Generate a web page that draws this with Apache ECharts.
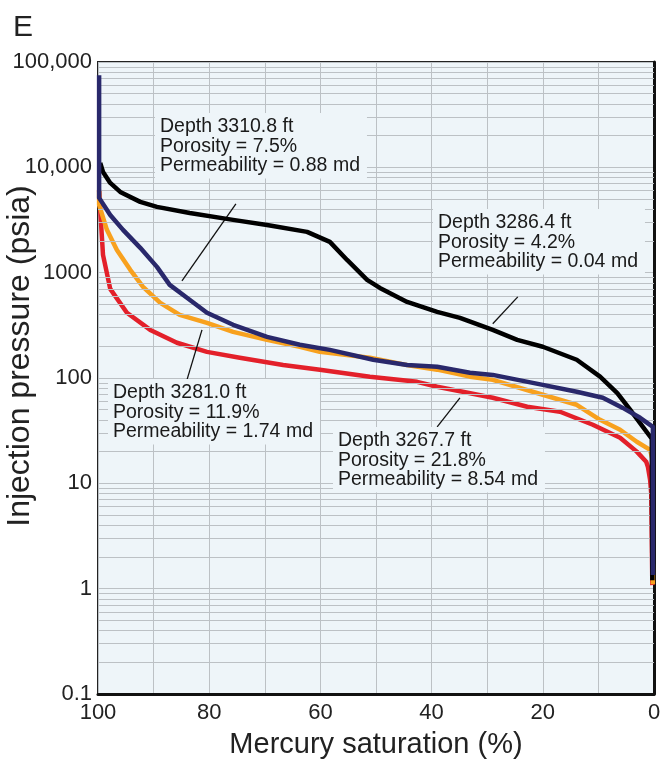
<!DOCTYPE html>
<html><head><meta charset="utf-8">
<script src="https://cdn.jsdelivr.net/npm/echarts@6/dist/echarts.min.js"></script>
<style>html,body{margin:0;padding:0;background:#fff}#c{width:661px;height:764px}</style>
</head><body><div id="c"></div>
<script>
// ---------- data (mercury saturation %, injection pressure psia) ----------
const depth3286 = [[0.3,1.2],[0.4,26.5],[2.0,34.4],[4.3,50],[6.6,72],[9.7,103],[13.9,149],[20,198],[24.6,230],[29,286],[34.9,372],[39,425],[44.4,528],[49.3,717],[51.6,855],[55.2,1320],[58.3,1960],[62.4,2440],[69.6,2840],[75.7,3170],[83.5,3690],[89.4,4210],[92.4,4700],[96,5840],[97.8,7110],[99.1,9040],[99.6,11000]];
const depth3310 = [[0.2,1.35],[0.2,34.4],[2.5,41.9],[5.6,52],[9.2,65],[13.9,74],[20,86],[29,107],[33.1,112],[39,128],[44.4,133],[50.5,149],[58.3,185],[63.7,207],[69.6,246],[75.7,320],[80.4,416],[84,577],[87.1,766],[89.4,1135],[92.4,1720],[95.5,2550],[97.8,3530],[99.8,5130],[99.8,75000]];
const depth3281 = [[0.2,1.1],[0.3,17],[0.7,20.8],[3.1,24.8],[6.1,32.3],[9.7,40.1],[13.9,55.7],[20,69.3],[29,96],[33.1,103],[39,120],[43.9,131],[51.1,156],[60.1,177],[63.7,198],[69.6,230],[75.7,274],[80.4,334],[85.3,398],[88.8,517],[91.9,733],[94.2,1063],[96.6,1645],[98.4,2550],[99.8,4400],[99.8,6000]];
const depth3267 = [[0.3,1.08],[0.5,8],[0.7,10.8],[1.1,14.4],[1.4,16],[3.1,20],[6.1,27.1],[11,36],[16.9,47.8],[22.8,53.3],[29,64.9],[34.4,74],[39,82.6],[42.6,92],[51.1,103],[60.1,120],[66.7,133],[74.5,156],[80.4,177],[85.8,216],[90.6,286],[94.8,416],[97.8,702],[99.1,1475],[99.6,3940],[99.8,6100]];

const xTickLabels = ['100','80','60','40','20','0'];
const yTickLabels = ['0.1','1','10','100','1000','10,000','100,000'];

const labelTexts = [
  'Depth 3310.8 ft\nPorosity = 7.5%\nPermeability = 0.88 md',
  'Depth 3286.4 ft\nPorosity = 4.2%\nPermeability = 0.04 md',
  'Depth 3281.0 ft\nPorosity = 11.9%\nPermeability = 1.74 md',
  'Depth 3267.7 ft\nPorosity = 21.8%\nPermeability = 8.54 md'
];
// leader lines in data coordinates
const leaders = [
  [[75.2,4500],[84.9,836]],
  [[24.5,589],[29.0,327]],
  [[81.3,286],[84.0,96]],
  [[34.9,64.9],[39.0,34.4]]
];

// ---------- chart ----------
const FONT = '"Liberation Sans", Arial, Helvetica, sans-serif';
const BG = '#eef5f9';
const GRIDC = '#bcc1c5';

const minorVals = [];
[0.1,1,10,100,1000,10000].forEach(d => { for (let k=2;k<=9;k++) minorVals.push(d*k); });

const chart = echarts.init(document.getElementById('c'), null, {renderer:'canvas'});

const labelPos = [[155,113],[433,209],[108,379],[333,427]];

chart.setOption({
  animation: false,
  backgroundColor: '#ffffff',
  title: {text:'E', left:8, top:8, textStyle:{fontFamily:FONT, fontSize:30, fontWeight:'normal', color:'#222'}},
  grid: {left:98, top:62, right:7, bottom:70, show:true, backgroundColor:BG, borderColor:'#222', borderWidth:2,
    containLabel:false, outerBoundsMode:'none'},
  xAxis: {
    type:'value', inverse:true, min:0, max:100, interval:20,
    name:'Mercury saturation (%)', nameLocation:'middle', nameGap:36, nameMoveOverlap:false,
    nameTextStyle:{fontFamily:FONT, fontSize:29, color:'#222'},
    axisLine:{show:true, onZero:false, lineStyle:{color:'#111', width:3}},
    axisTick:{show:false},
    axisLabel:{fontFamily:FONT, fontSize:22, color:'#222', margin:8,
      formatter:(v)=> xTickLabels[Math.round((100-v)/20)]},
    splitLine:{show:true, lineStyle:{color:GRIDC, width:1}},
    minorTick:{show:false, splitNumber:2},
    minorSplitLine:{show:true, lineStyle:{color:GRIDC, width:1}}
  },
  yAxis: {
    type:'log', logBase:10, min:0.1, max:100000, splitNumber:6,
    name:'Injection pressure (psia)', nameLocation:'middle', nameGap:62, nameRotate:90, nameMoveOverlap:false,
    nameTextStyle:{fontFamily:FONT, fontSize:32, color:'#222', padding:[0,0,0,44]},
    axisLine:{show:true, lineStyle:{color:'#111', width:3}},
    axisTick:{show:false},
    axisLabel:{fontFamily:FONT, fontSize:22, color:'#222', margin:6,
      formatter:(v)=> yTickLabels[Math.round(Math.log10(v))+1]},
    splitLine:{show:true, lineStyle:{color:GRIDC, width:1}}
  },
  graphic: labelTexts.map((t,i)=>({
    type:'text', x:labelPos[i][0], y:labelPos[i][1], z:50,
    style:{text:t, font:'19.5px '+FONT, fill:'#1a1a1a', lineHeight:19.5,
      backgroundColor:BG, padding:[4,7,3,5], verticalAlign:'top', align:'left'}
  })),
  series: [
    {type:'line', data:[], z:1, silent:true,
      markLine:{silent:true, symbol:'none', animation:false, label:{show:false},
        lineStyle:{color:GRIDC, width:1, type:'solid'},
        data: minorVals.map(v=>({yAxis:v}))}},
    {name:'3267.7', type:'line', data:depth3267, showSymbol:false, z:3,
      lineStyle:{color:'#e3202a', width:4.5, join:'round'}},
    {name:'3281.0', type:'line', data:depth3281, showSymbol:false, z:4,
      lineStyle:{color:'#f8a11e', width:4.5, join:'round'}},
    {name:'3286.4', type:'line', data:depth3286, showSymbol:false, z:5,
      lineStyle:{color:'#000000', width:4.5, join:'round'}},
    {name:'3310.8', type:'line', data:depth3310, showSymbol:false, z:6,
      lineStyle:{color:'#29286b', width:4.5, join:'round'}},
    {type:'line', data:[], z:60, silent:true,
      markLine:{silent:true, symbol:'none', animation:false, label:{show:false},
        lineStyle:{color:'#111', width:1.3, type:'solid'},
        data: leaders.map(l=>[{coord:l[0]},{coord:l[1]}])}}
  ]
});
</script></body></html>
